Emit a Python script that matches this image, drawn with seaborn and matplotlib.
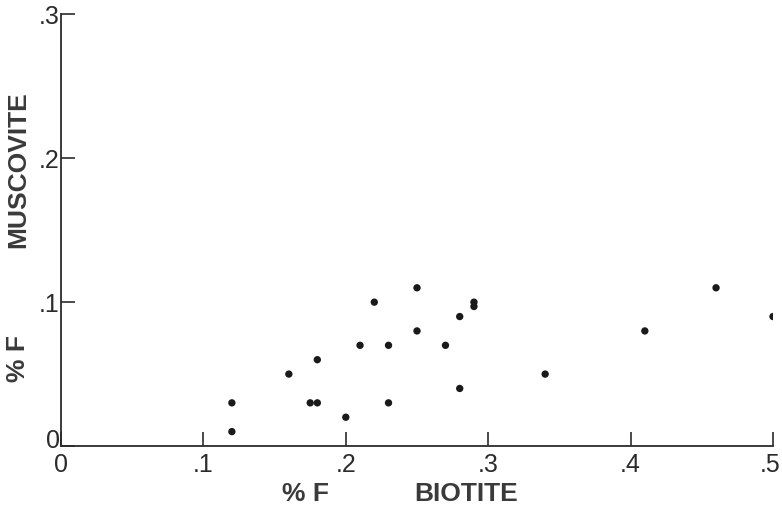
import matplotlib
matplotlib.use("Agg")
import matplotlib.pyplot as plt
import matplotlib.transforms as mtransforms
import seaborn as sns
import pandas as pd

# Data
biotite_f = [0.12, 0.12, 0.16, 0.18, 0.175, 0.18, 0.20, 0.21, 0.22, 0.23, 0.23,
             0.25, 0.25, 0.27, 0.28, 0.28, 0.29, 0.29, 0.34, 0.41, 0.46, 0.50]
muscovite_f = [0.03, 0.01, 0.05, 0.06, 0.03, 0.03, 0.02, 0.07, 0.10, 0.07, 0.03,
               0.11, 0.08, 0.07, 0.09, 0.04, 0.100, 0.097, 0.05, 0.08, 0.11, 0.09]
x_ticks = [0, 0.1, 0.2, 0.3, 0.4, 0.5]
x_tick_labels = ["0", ".1", ".2", ".3", ".4", ".5"]
y_ticks = [0, 0.1, 0.2, 0.3]
y_tick_labels = ["0", ".1", ".2", ".3"]

df = pd.DataFrame({"biotite": biotite_f, "muscovite": muscovite_f})

sns.set_style("ticks")
plt.rcParams["font.family"] = ["Liberation Sans", "DejaVu Sans"]

fig = plt.figure(figsize=(7.82, 5.08), dpi=100)
ax = fig.add_axes([61 / 782, (508 - 446) / 508, (773 - 61) / 782, (446 - 14.5) / 508])

ink = "#2b2b2b"
sns.scatterplot(data=df, x="biotite", y="muscovite", ax=ax, color="#1a1a1a",
                s=28, edgecolor="none", linewidth=0, legend=False)

ax.set_xlim(0, 0.5)
ax.set_ylim(0, 0.3)
ax.set_xticks(x_ticks)
ax.set_xticklabels(x_tick_labels)
ax.set_yticks(y_ticks)
ax.set_yticklabels(y_tick_labels)
ax.tick_params(axis="both", direction="in", length=10, width=1.2, colors=ink,
               labelsize=18, labelcolor=ink)
ax.tick_params(axis="x", pad=5)
ax.tick_params(axis="y", pad=1)
for s in ["top", "right"]:
    ax.spines[s].set_visible(False)
for s in ["left", "bottom"]:
    ax.spines[s].set_linewidth(1.3)
    ax.spines[s].set_color(ink)
ax.set_xlabel("")
ax.set_ylabel("")

# small offsets so corner / edge labels sit like the reference
ylab0 = ax.get_yticklabels()[0]
ylab0.set_transform(ylab0.get_transform() +
                    mtransforms.ScaledTranslation(0, 7 / 100, fig.dpi_scale_trans))
xlab_last = ax.get_xticklabels()[-1]
xlab_last.set_transform(xlab_last.get_transform() +
                        mtransforms.ScaledTranslation(-3 / 100, 0, fig.dpi_scale_trans))

lab = dict(color="#3a3a3a", fontsize=19, fontweight="bold")
fig.text(305 / 782, 1 - 494 / 508, "% F", ha="center", va="center", **lab)
fig.text(466 / 782, 1 - 494 / 508, "BIOTITE", ha="center", va="center", **lab)
fig.text(18 / 782, 1 - 358 / 508, "% F", ha="center", va="center", rotation=90, **lab)
fig.text(18 / 782, 1 - 170 / 508, "MUSCOVITE", ha="center", va="center", rotation=90, **lab)

fig.savefig("out.png", dpi=100)
